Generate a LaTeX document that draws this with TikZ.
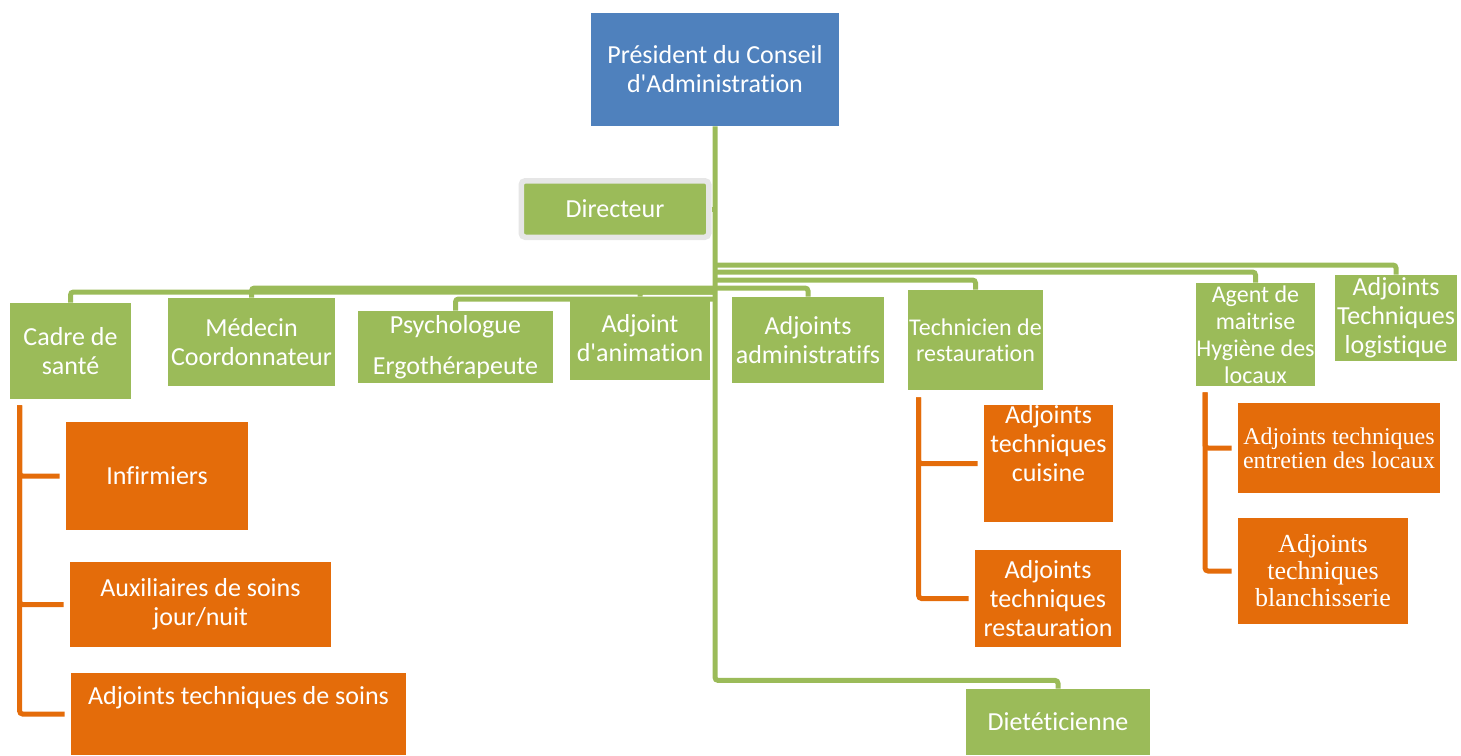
\documentclass[tikz,border=0pt]{standalone}
\usepackage{fontspec}
\setmainfont{Carlito}[Ligatures={TeXOff,NoCommon}]
\newfontfamily\timesfont{Liberation Serif}
\definecolor{boardblue}{RGB}{79,129,189}
\definecolor{leafgreen}{RGB}{155,187,89}
\definecolor{stafforange}{RGB}{228,108,10}
\definecolor{framegray}{RGB}{230,230,230}
\usetikzlibrary{positioning}

\begin{document}
\begin{tikzpicture}[
  x=0.5pt, y=-0.5pt,
  unit/.style={inner sep=0pt, align=center, text=white, font=\fontsize{13}{14.5}\selectfont},
  gbox/.style={unit, fill=leafgreen},
  obox/.style={unit, fill=stafforange},
  gline/.style={draw=leafgreen, line width=2.5pt, rounded corners=1.5pt},
  oline/.style={draw=stafforange, line width=2.5pt, rounded corners=1.5pt}
]
  \useasboundingbox (0,0) rectangle (1461,755);

  \node[unit, fill=boardblue, minimum width=124pt, minimum height=56.5pt] (pres) at (715,69.5) {Président du Conseil\\d'Administration};
  \node[gbox, draw=framegray, line width=2.75pt, rounded corners=2pt, minimum width=93.75pt, minimum height=28.25pt] (dir) at (615,209) {Directeur};

  \node[gbox, minimum width=60.5pt, minimum height=48pt] (cadre) at (70.5,351) {Cadre de\\santé};
  \node[gbox, minimum width=83.5pt, minimum height=44pt] (med) at (251.5,342) {Médecin\\Coordonnateur};
  \node[gbox, minimum width=97.5pt, minimum height=36pt] (psy) at (455.5,347) {Psychologue\\[6pt]Ergothérapeute};
  \node[gbox, minimum width=70pt, minimum height=41.5pt] (anim) at (640,338.5) {Adjoint\\d'animation};
  \node[gbox, minimum width=76pt, minimum height=43pt] (adm) at (808,340) {Adjoints\\administratifs};
  \node[gbox, font=\fontsize{12}{13}\selectfont, minimum width=67.5pt, minimum height=50pt] (tech) at (975.5,340) {Technicien de\\restauration};
  \node[gbox, font=\fontsize{12}{13.5}\selectfont, minimum width=58.5pt, minimum height=51.5pt] (agent) at (1255.5,334.5) {Agent de\\maitrise\\Hygiène des\\locaux};
  \node[gbox, minimum width=61pt, minimum height=43pt] (logi) at (1396,318) {Adjoints\\Techniques\\logistique};
  \node[gbox, minimum width=92pt, minimum height=33pt] (diet) at (1058,722) {Dietéticienne};

  \node[obox, minimum width=91pt, minimum height=54pt] (inf) at (157,476) {Infirmiers};
  \node[obox, minimum width=130.5pt, minimum height=42.5pt] (aux) at (200.5,604.5) {Auxiliaires de soins\\jour/nuit};
  \node[obox, minimum width=167.5pt, minimum height=41pt] (ats) at (238.5,714) {Adjoints techniques de soins\\[4.5pt]\mbox{}};
  \node[obox, minimum width=64.5pt, minimum height=58.5pt] (cuis) at (1048.5,463.5) {Adjoints\\techniques\\cuisine\\[6pt]\mbox{}};
  \node[obox, minimum width=73pt, minimum height=48.5pt] (rest) at (1048,598.5) {Adjoints\\techniques\\restauration};
  \node[obox, font=\timesfont\fontsize{12}{12}\selectfont, minimum width=101pt, minimum height=45pt] (ent) at (1339,448) {Adjoints techniques\\entretien des locaux};
  \node[obox, font=\timesfont\fontsize{13}{13.5}\selectfont, minimum width=85pt, minimum height=53pt] (blan) at (1323,571) {Adjoints\\techniques\\blanchisserie};

  \draw[gline] (pres.south) -- ++(0,554) -| (diet.north);
  \draw[gline] (dir.east) -- (dir.east -| pres.south);
  \draw[gline] (pres.south |- 0,265) -| (logi.north);
  \draw[gline] (pres.south |- 0,272) -| (agent.north);
  \draw[gline] (pres.south |- 0,280) -| (tech.north);
  \draw[gline] (pres.south |- 0,288) -| (adm.north);
  \draw[gline] (pres.south |- 0,292) -| (anim.north);
  \draw[gline] (pres.south |- 0,299) -| (psy.north);
  \draw[gline] (pres.south |- 0,288) -| (med.north);
  \draw[gline] (pres.south |- 0,292) -| (cadre.north);

  \draw[oline, shorten >=3pt] ([xshift=5pt,yshift=-3pt]cadre.south west) |- (inf.west);
  \draw[oline, shorten >=3pt] ([xshift=5pt,yshift=-3pt]cadre.south west) |- (aux.west);
  \draw[oline, shorten >=3pt] ([xshift=5pt,yshift=-3pt]cadre.south west) |- (ats.west);
  \draw[oline, shorten >=3pt] ([xshift=5.5pt,yshift=-3.5pt]tech.south west) |- (cuis.west);
  \draw[oline, shorten >=3pt] ([xshift=5.5pt,yshift=-3.5pt]tech.south west) |- (rest.west);
  \draw[oline, shorten >=3pt] ([xshift=4.5pt,yshift=-3pt]agent.south west) |- (ent.west);
  \draw[oline, shorten >=3pt] ([xshift=4.5pt,yshift=-3pt]agent.south west) |- (blan.west);
\end{tikzpicture}
\end{document}
